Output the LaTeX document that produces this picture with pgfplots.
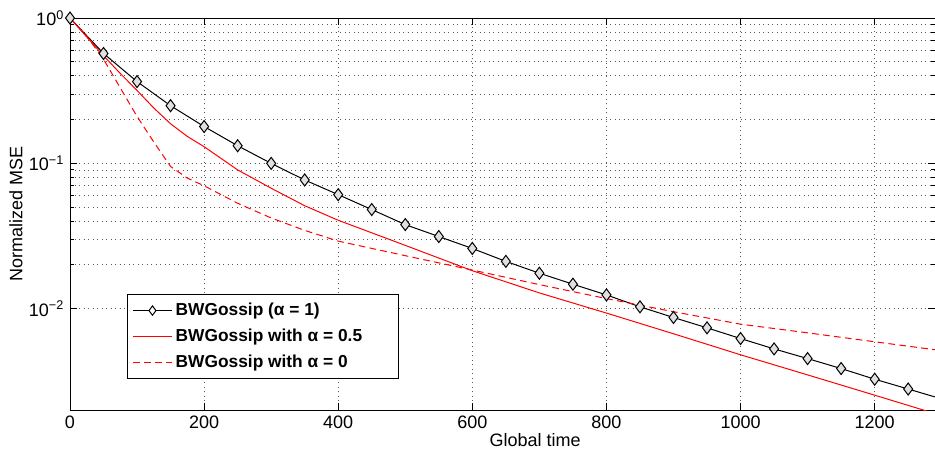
\documentclass[border=0pt]{standalone}
\usepackage{pgfplots}
\pgfplotsset{compat=1.18}
\usepackage{fontspec}
\setmainfont{Liberation Sans}

\begin{document}
\begin{tikzpicture}
\begin{axis}[
    name=ax,
    scale only axis,
    width=519pt, height=235.2pt,
    ymode=log,
    xmin=0, xmax=1290,
    ymin=2e-3, ymax=1,
    xtick={0,200,...,1200},
    ytick={1e-2,1e-1,1},
    yticklabels={10\textsuperscript{−2},10\textsuperscript{−1},10\textsuperscript{0}},
    tick align=inside,
    major tick length=4pt,
    minor tick length=2.4pt,
    xmajorgrids, ymajorgrids, yminorgrids,
    major grid style={dash pattern=on 0.5pt off 2.2pt, black!65, line width=0.45pt},
    minor grid style={dash pattern=on 0.5pt off 2.2pt, black!65, line width=0.45pt},
    axis line style={line width=0.6pt},
    tick style={black, line width=0.5pt},
    /pgf/number format/assume math mode=true,
    /pgf/number format/1000 sep={},
    ticklabel style={font=\fontsize{10.8}{12}\selectfont},
    label style={font=\fontsize{10.8}{12}\selectfont},
    xlabel={Global time},
    ylabel={Normalized MSE},
    xlabel style={at={(axis description cs:0.5376,0)}, anchor=north, yshift=-10.5pt},
    ylabel style={yshift=-3pt},
    legend cell align=left,
    legend style={at={(0.0659,0.079)}, anchor=south west, draw=black,
      line width=0.6pt, fill=white,
      font=\bfseries\fontsize{10.4}{12}\selectfont,
      row sep=2.6pt, inner xsep=3pt, inner ysep=3pt},
]
\addplot[black, line width=0.6pt, mark=diamond*, mark size=3.6pt,
  mark options={fill=white!88!black, solid},
  mark indices={1,2,3,4,5,6,7,8,9,10,11,12,13,14,15,16,17,18,19,20,21,22,23,24,25,26},
  legend image code/.code={%
    \draw[black, line width=0.6pt] (0cm,0cm) -- (0.82cm,0cm);
    \draw[black, line width=0.6pt, mark=diamond*, mark size=2.8pt, mark options={fill=white}]
      plot coordinates {(0.41cm,0cm)};}
  ] coordinates {
(0,1.0) (50,0.57) (100,0.365) (150,0.249) (200,0.179) (250,0.132) (300,0.0998)
(350,0.0767) (400,0.0608) (450,0.048) (500,0.0378) (550,0.0313) (600,0.0259)
(650,0.0211) (700,0.0175) (750,0.0147) (800,0.0124) (850,0.01027) (900,0.00867)
(950,0.00736) (1000,0.00621) (1050,0.00527) (1100,0.00452) (1150,0.00386)
(1200,0.00326) (1250,0.00279) (1290,0.00246)
};
\addlegendentry{BWGossip (α = 1)}
\addplot[red, line width=0.6pt,
  legend image code/.code={\draw[red, line width=0.6pt] (0cm,0cm) -- (0.82cm,0cm);}
  ] coordinates {
(0,1.0) (25,0.74) (50,0.55) (75,0.415) (100,0.317) (125,0.24) (150,0.187) (175,0.153)
(200,0.130) (250,0.090) (300,0.0673) (350,0.051) (400,0.0405) (500,0.0272)
(600,0.0182) (700,0.0128) (800,0.0093) (900,0.0067) (1000,0.0048) (1100,0.00349)
(1200,0.00253) (1290,0.00189)
};
\addlegendentry{BWGossip with α = 0.5\rule{17pt}{0pt}}
\addplot[red, line width=0.6pt, dash pattern=on 4pt off 2.6pt,
  legend image code/.code={\draw[red, line width=0.6pt, dash pattern=on 4pt off 2.6pt] (0cm,0cm) -- (0.82cm,0cm);}
  ] coordinates {
(0,1.0) (25,0.75) (50,0.52) (75,0.33) (100,0.21) (125,0.14) (150,0.095) (175,0.079)
(200,0.070) (250,0.053) (300,0.042) (350,0.0345) (400,0.0291) (500,0.0231)
(600,0.0184) (700,0.0146) (800,0.0117) (900,0.0095) (1000,0.0078) (1100,0.0068)
(1200,0.0059) (1290,0.0052)
};
\addlegendentry{BWGossip with α = 0}
\coordinate (a) at (rel axis cs:0,0);
\coordinate (b) at (rel axis cs:1,1);
\end{axis}
\pgfresetboundingbox
\path[use as bounding box] (a) ++(-42pt,-25.8pt) rectangle ([yshift=10.8pt]b);
\end{tikzpicture}
\end{document}
